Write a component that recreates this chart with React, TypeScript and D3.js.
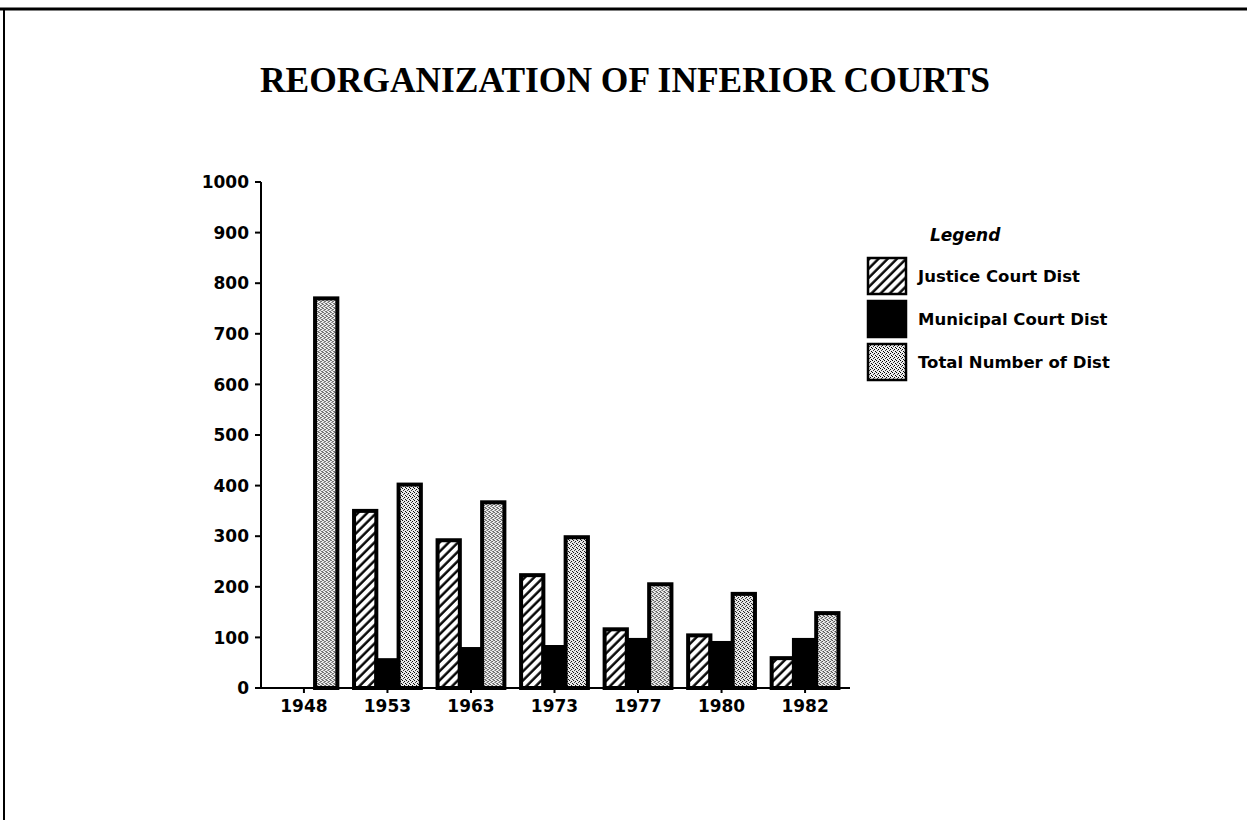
import React from 'react';
import * as d3 from 'd3';

const title = 'REORGANIZATION OF INFERIOR COURTS';
const years = ['1948', '1953', '1963', '1973', '1977', '1980', '1982'];
const justice = [0, 350, 292, 223, 116, 104, 59];
const municipal = [0, 55, 77, 81, 95, 89, 95];
const total = [770, 402, 367, 298, 205, 186, 148];
const seriesKeys = ['justice', 'municipal', 'total'];
const seriesLabels = ['Justice Court Dist', 'Municipal Court Dist', 'Total Number of Dist'];
const yTicks = [0, 100, 200, 300, 400, 500, 600, 700, 800, 900, 1000];

const W = 1247;
const H = 820;
const sans = '"DejaVu Sans", "Liberation Sans", Arial, sans-serif';

export default function App() {
  const x0 = d3.scaleBand<string>().domain(years).range([261, 848]).paddingInner(0.2).paddingOuter(0.114);
  const x1 = d3.scaleBand<string>().domain(seriesKeys).range([0, x0.bandwidth()]);
  const y = d3.scaleLinear().domain([0, 1000]).range([688, 182]);

  const fills: Record<string, string> = {
    justice: 'url(#hatch)',
    municipal: '#000',
    total: 'url(#stipple)',
  };
  const data = years.map((yr, i) => ({
    year: yr,
    values: [
      { key: 'justice', v: justice[i] },
      { key: 'municipal', v: municipal[i] },
      { key: 'total', v: total[i] },
    ],
  }));

  return (
    <svg width={W} height={H} style={{ position: 'absolute', left: 0, top: 0, background: '#fff' }}>
      <defs>
        <pattern id="hatch" patternUnits="userSpaceOnUse" width={6.5} height={6.5} patternTransform="rotate(45)">
          <rect width={6.5} height={6.5} fill="#fff" />
          <line x1={1.5} y1={0} x2={1.5} y2={6.5} stroke="#000" strokeWidth={2.4} />
        </pattern>
        <pattern id="stipple" patternUnits="userSpaceOnUse" width={4} height={4}>
          <rect width={4} height={4} fill="#ececec" />
          <rect x={0} y={0} width={1} height={1} fill="#000" />
          <rect x={2} y={1} width={1} height={1} fill="#000" />
          <rect x={1} y={2} width={1} height={1} fill="#333" />
          <rect x={3} y={3} width={1} height={1} fill="#000" />
        </pattern>
      </defs>

      {/* frame */}
      <line x1={0} y1={9} x2={W} y2={9} stroke="#000" strokeWidth={3} />
      <line x1={4} y1={8} x2={4} y2={H} stroke="#000" strokeWidth={2} />

      {/* title */}
      <text x={625} y={92} textAnchor="middle" fontFamily='"Liberation Serif", "Times New Roman", serif'
        fontSize={36} fontWeight="bold" textLength={730} lengthAdjust="spacingAndGlyphs" fill="#000">
        {title}
      </text>

      {/* bars */}
      {data.map((d) => (
        <g key={d.year} transform={`translate(${x0(d.year)},0)`}>
          {d.values.filter((s) => s.v > 0).map((s) => (
            <rect key={s.key} x={x1(s.key)} y={y(s.v)} width={x1.bandwidth()} height={y(0) - y(s.v)}
              fill={fills[s.key]} stroke="#000" strokeWidth={4} />
          ))}
        </g>
      ))}

      {/* y axis */}
      <line x1={261} y1={y(1000)} x2={261} y2={y(0)} stroke="#000" strokeWidth={2} />
      {yTicks.map((t) => (
        <g key={t}>
          <line x1={255} x2={261} y1={y(t)} y2={y(t)} stroke="#000" strokeWidth={2} />
          <text x={249} y={y(t)} dy="0.36em" textAnchor="end" fontFamily={sans} fontWeight="bold" fontSize={17} fill="#000">
            {t}
          </text>
        </g>
      ))}

      {/* x axis */}
      <line x1={260} y1={y(0)} x2={850} y2={y(0)} stroke="#000" strokeWidth={2} />
      {years.map((yr) => {
        const cx = (x0(yr) as number) + x0.bandwidth() / 2;
        return (
          <g key={yr}>
            <line x1={cx} x2={cx} y1={y(0)} y2={y(0) + 5} stroke="#000" strokeWidth={2} />
            <text x={cx} y={712} textAnchor="middle" fontFamily={sans} fontWeight="bold" fontSize={17} fill="#000">
              {yr}
            </text>
          </g>
        );
      })}

      {/* legend */}
      <text x={930} y={241} fontFamily={sans} fontWeight="bold" fontStyle="italic" fontSize={17} fill="#000">
        Legend
      </text>
      {seriesKeys.map((k, i) => (
        <g key={k} transform={`translate(868,${258 + i * 43})`}>
          <rect x={0} y={0} width={38} height={36} fill={fills[k]} stroke="#000" strokeWidth={2.5} />
          <text x={50} y={18} dy="0.36em" fontFamily={sans} fontWeight="bold" fontSize={16.5} fill="#000">
            {seriesLabels[i]}
          </text>
        </g>
      ))}
    </svg>
  );
}
